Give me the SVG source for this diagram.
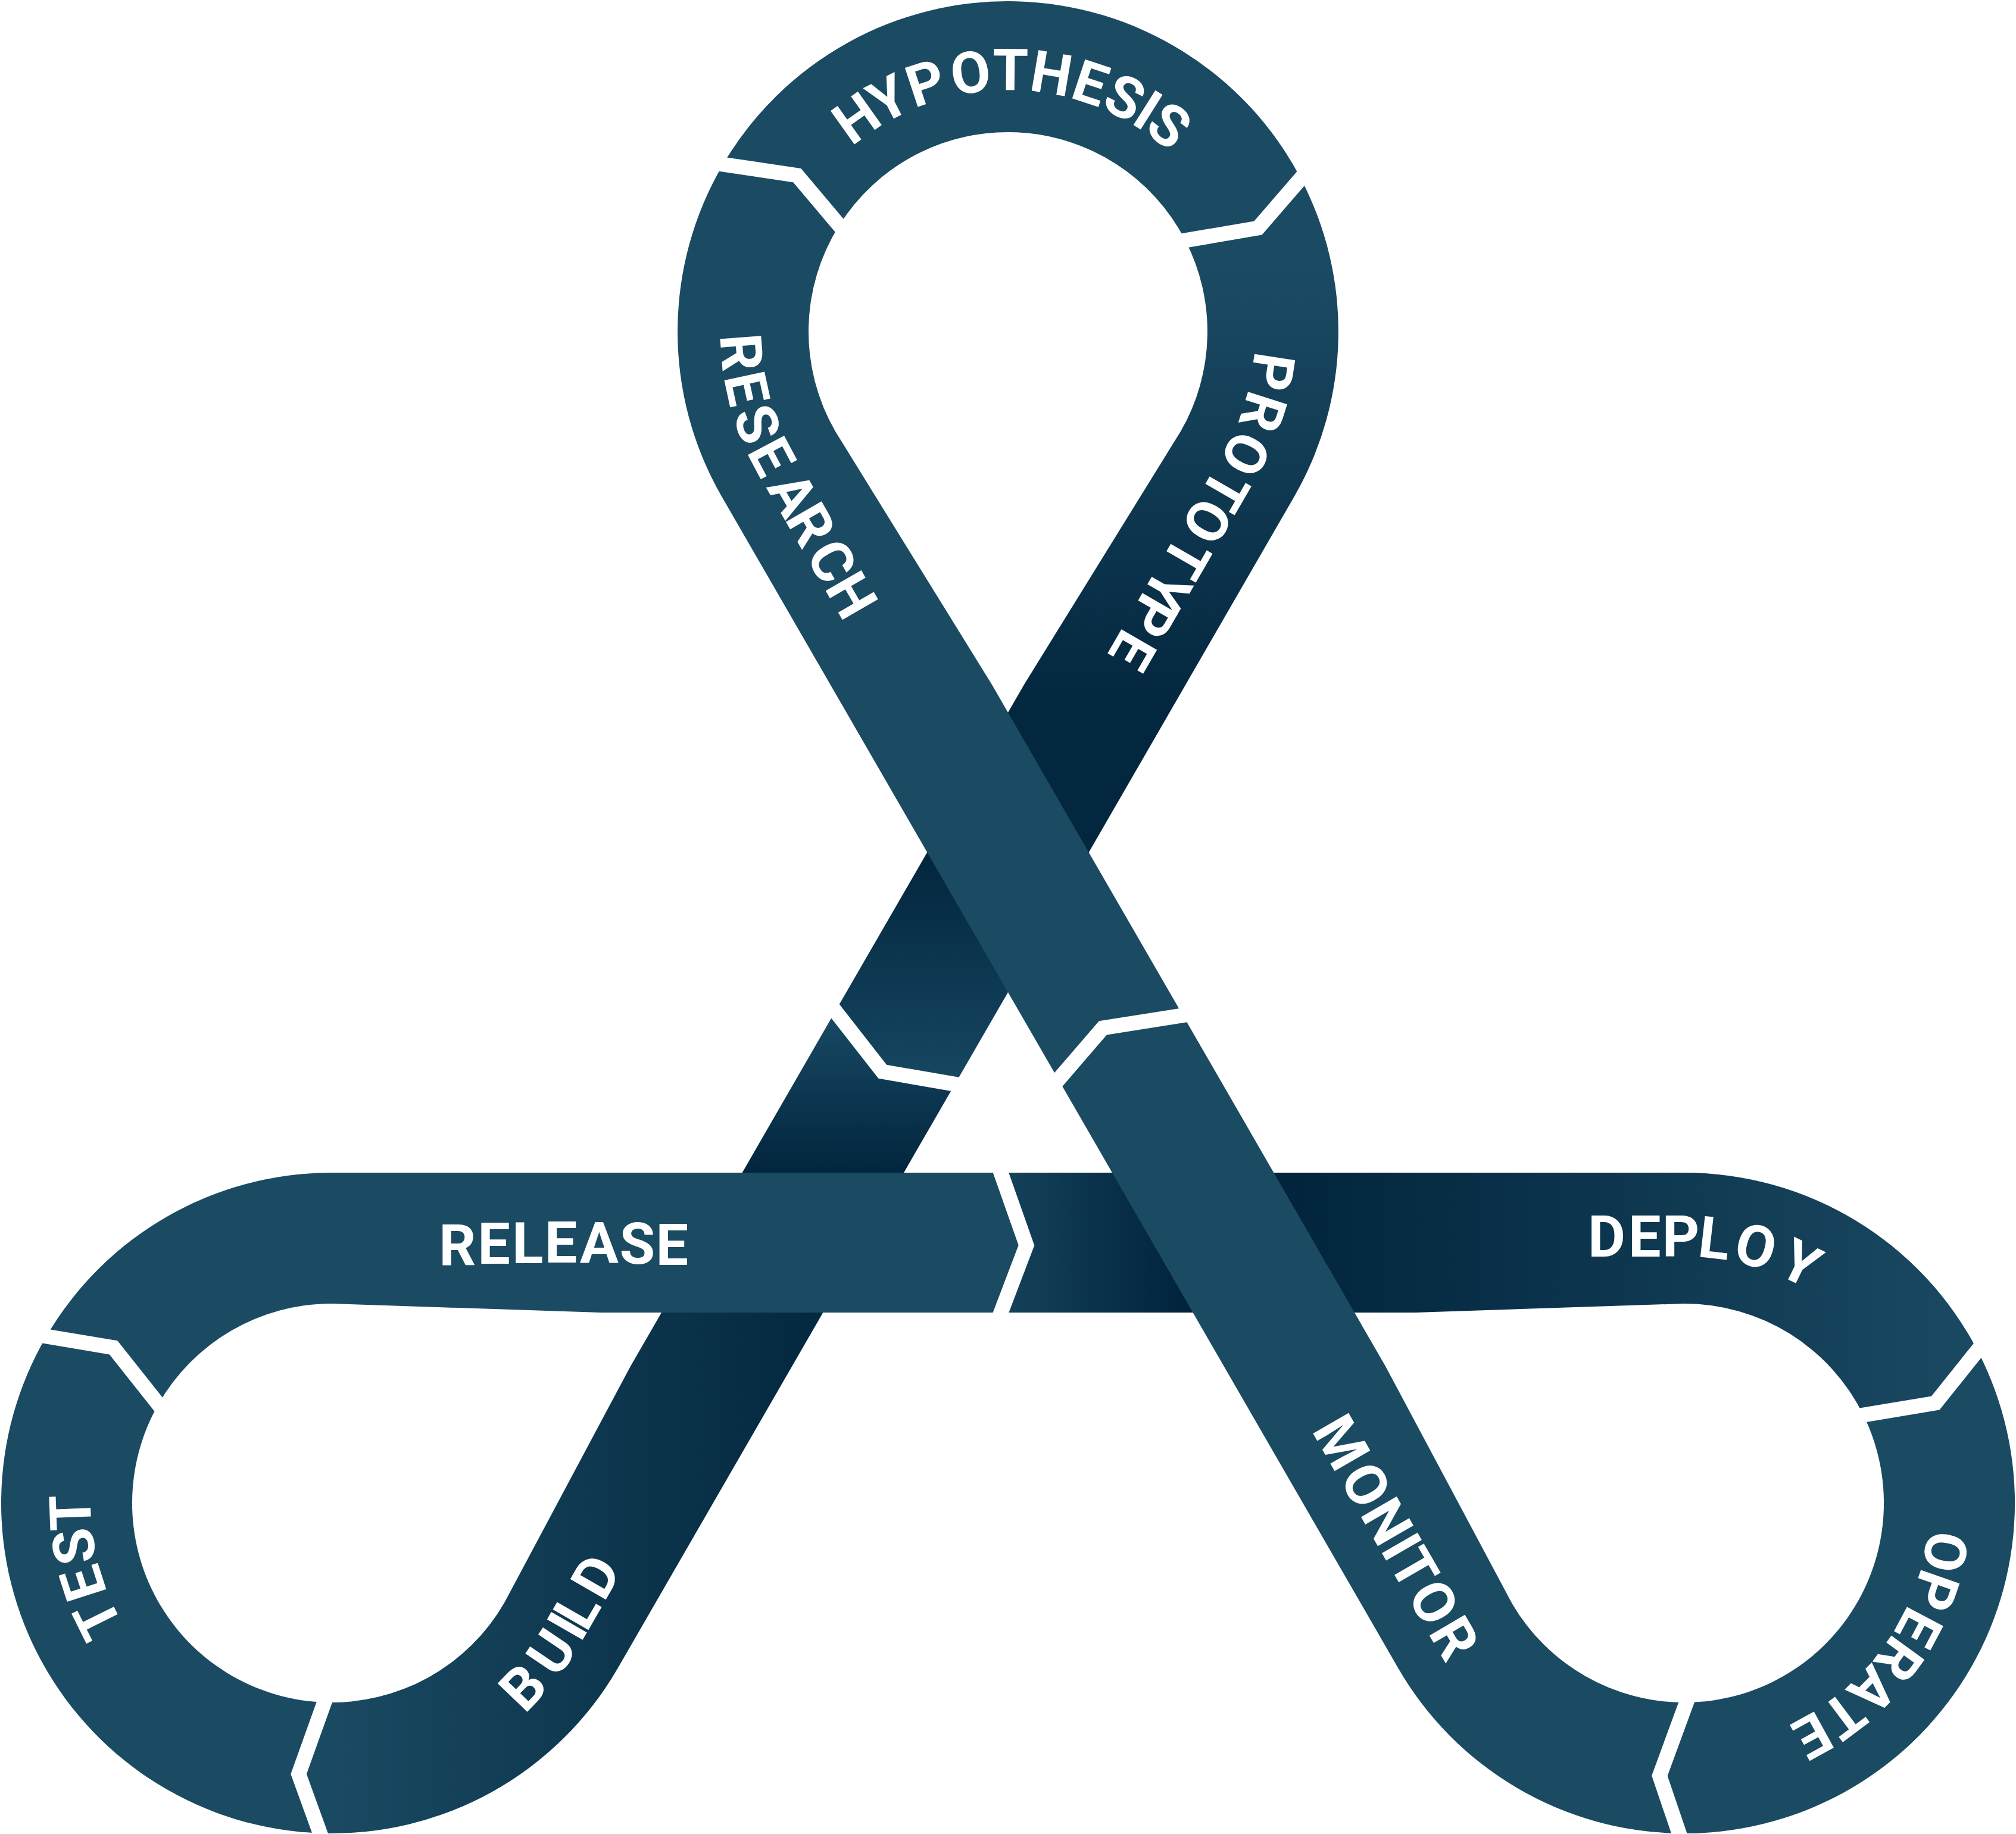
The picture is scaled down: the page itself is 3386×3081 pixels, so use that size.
<svg xmlns="http://www.w3.org/2000/svg" width="3386" height="3081" viewBox="0 0 3386 3081">
<defs>
<style>
.light{fill:#1b4b63}
.sep{fill:none;stroke:#ffffff;stroke-width:25;stroke-linejoin:miter;stroke-miterlimit:10}
.lbl{font-family:Roboto,"Noto Sans","DejaVu Sans",sans-serif;font-weight:700;font-size:97px;fill:#ffffff;text-anchor:middle}
</style>
<linearGradient id="gPro" gradientUnits="userSpaceOnUse" x1="0" y1="450" x2="0" y2="1820">
<stop offset="0" stop-color="#1b4b63"/><stop offset="0.54" stop-color="#03273f"/><stop offset="0.73" stop-color="#03273f"/><stop offset="1" stop-color="#174762"/>
</linearGradient>
<linearGradient id="gBu" gradientUnits="userSpaceOnUse" x1="0" y1="1720" x2="0" y2="1965">
<stop offset="0" stop-color="#174762"/><stop offset="1" stop-color="#02263e"/>
</linearGradient>
<linearGradient id="gBl" gradientUnits="userSpaceOnUse" x1="520" y1="0" x2="1380" y2="0">
<stop offset="0" stop-color="#1b4b63"/><stop offset="1" stop-color="#03283f"/>
</linearGradient>
<linearGradient id="gDep" gradientUnits="userSpaceOnUse" x1="1697" y1="0" x2="3330" y2="0">
<stop offset="0" stop-color="#134159"/><stop offset="0.1825" stop-color="#01233c"/><stop offset="0.271" stop-color="#01243c"/><stop offset="1" stop-color="#1a4a62"/>
</linearGradient>
<path id="pHyp" d="M1287,557 A406,406 0 0 1 2099,557"/>
<path id="pRes" d="M1239.1,391.8 A483,483 0 0 0 1274.7,798.5 L1624.7,1404.7"/>
<path id="pPro" d="M2083,415.1 A415,415 0 0 1 2052.4,764.5 L1702.4,1370.7"/>
<path id="pTest" d="M296.7,2835.2 A405,405 0 0 1 246.8,2264.7"/>
<path id="pBuild" d="M640.4,2997.7 A480,480 0 0 0 972.7,2765 L1272.7,2245.4"/>
<path id="pDep" d="M2600,2111 L2829,2111 A414,414 0 0 1 3218,2383.4"/>
<path id="pMon" d="M2125.6,2270.2 L2411.6,2766 A482,482 0 0 0 2664.1,2977.9"/>
<path id="pOpe" d="M3185.8,2319 A412,412 0 0 1 2623,2881.8"/>
</defs>
<rect width="3386" height="3081" fill="#ffffff"/>

<g id="prototype">
<path fill="url(#gPro)" d="M2184.8,299.9 A555,555 0 0 1 2173.6,834.5 L1603.9,1821.3 L1482.3,1800.3 L1403,1698.8 L1720.1,1150 L1983.1,724.5 A335,335 0 0 0 1990.9,403.9 L2113,383 Z"/>
<text class="lbl"><textPath href="#pPro" startOffset="207.7">P</textPath><textPath href="#pPro" startOffset="272">R</textPath><textPath href="#pPro" startOffset="342.2">O</textPath><textPath href="#pPro" startOffset="410.9">T</textPath><textPath href="#pPro" startOffset="470.7">O</textPath><textPath href="#pPro" startOffset="541.5">T</textPath><textPath href="#pPro" startOffset="605.5">Y</textPath><textPath href="#pPro" startOffset="654.8">P</textPath><textPath href="#pPro" startOffset="721.4">E</textPath></text>
</g>

<g id="build">
<path fill="url(#gBl)" d="M537.6,3079.7 A555,555 0 0 0 1037.6,2802.5 L1442.9,2100 L1171.7,2100 L1059.1,2295 L847.1,2692.5 A335,335 0 0 1 544.7,2859.8 L501.6,2980.3 Z"/>
<path fill="url(#gBu)" d="M1603.9,1821.3 L1419.8,2140 L1148.6,2140 L1403,1698.8 L1482.3,1800.3 Z"/>
<text class="lbl"><textPath href="#pBuild" startOffset="302">B</textPath><textPath href="#pBuild" startOffset="384">U</textPath><textPath href="#pBuild" startOffset="437.5">I</textPath><textPath href="#pBuild" startOffset="470">L</textPath><textPath href="#pBuild" startOffset="534">D</textPath></text>
</g>

<g id="deploy">
<path fill="url(#gDep)" d="M3321.3,2268.7 A555,555 0 0 0 2829,1970 L1681,1970 L1724,2092 L1681,2205 L2378,2205 L2829,2190 A335,335 0 0 1 3129.6,2377.1 L3250.7,2357 Z"/>
<text class="lbl"><textPath href="#pDep" startOffset="98.5">D</textPath><textPath href="#pDep" startOffset="162.4">E</textPath><textPath href="#pDep" startOffset="223">P</textPath><textPath href="#pDep" startOffset="276">L</textPath><textPath href="#pDep" startOffset="341.3">O</textPath><textPath href="#pDep" startOffset="415.9">Y</textPath></text>
</g>

<g id="hypothesis">
<path class="light" d="M1214.3,276.2 A555,555 0 0 1 2184.8,299.9 L2113,383 L1990.9,403.9 A335,335 0 0 0 1409.5,378.5 L1338.8,294.6 Z"/>
<text class="lbl"><textPath href="#pHyp" startOffset="386.6">H</textPath><textPath href="#pHyp" startOffset="444.6">Y</textPath><textPath href="#pHyp" startOffset="507.4">P</textPath><textPath href="#pHyp" startOffset="578.9">O</textPath><textPath href="#pHyp" startOffset="641.3">T</textPath><textPath href="#pHyp" startOffset="705.1">H</textPath><textPath href="#pHyp" startOffset="767.6">E</textPath><textPath href="#pHyp" startOffset="824.8">S</textPath><textPath href="#pHyp" startOffset="865.9">I</textPath><textPath href="#pHyp" startOffset="906.3">S</textPath></text>
</g>

<g id="research">
<path class="light" d="M1214.3,276.2 A555,555 0 0 0 1212.4,834.5 L1777.7,1813.6 L1852.4,1726.8 L1986.8,1705.8 L1665.9,1150 L1402.9,724.5 A335,335 0 0 1 1409.5,378.5 L1338.8,294.6 Z"/>
<text class="lbl"><textPath href="#pRes" startOffset="206.1">R</textPath><textPath href="#pRes" startOffset="271.9">E</textPath><textPath href="#pRes" startOffset="339.1">S</textPath><textPath href="#pRes" startOffset="403.5">E</textPath><textPath href="#pRes" startOffset="477.5">A</textPath><textPath href="#pRes" startOffset="536.9">R</textPath><textPath href="#pRes" startOffset="607.7">C</textPath><textPath href="#pRes" startOffset="673.6">H</textPath></text>
</g>

<g id="monitor">
<path class="light" d="M1777.7,1813.6 L2348.4,2802.5 A555,555 0 0 0 2820.3,3080 L2787.4,2983.2 L2832.5,2860 A335,335 0 0 1 2538.9,2692.5 L2326.9,2295 L1986.8,1705.8 L1852.4,1726.8 Z"/>
<text class="lbl"><textPath href="#pMon" startOffset="195.7">M</textPath><textPath href="#pMon" startOffset="278.6">O</textPath><textPath href="#pMon" startOffset="349.4">N</textPath><textPath href="#pMon" startOffset="398.4">I</textPath><textPath href="#pMon" startOffset="440.8">T</textPath><textPath href="#pMon" startOffset="506.3">O</textPath><textPath href="#pMon" startOffset="576.2">R</textPath></text>
</g>

<g id="operate">
<path class="light" d="M2820.3,3080 A555,555 0 0 0 3321.3,2268.7 L3250.7,2357 L3129.6,2377.1 A335,335 0 0 1 2832.5,2860 L2787.4,2983.2 Z"/>
<text class="lbl"><textPath href="#pOpe" startOffset="292">O</textPath><textPath href="#pOpe" startOffset="354.5">P</textPath><textPath href="#pOpe" startOffset="416.5">E</textPath><textPath href="#pOpe" startOffset="475.2">R</textPath><textPath href="#pOpe" startOffset="538.2">A</textPath><textPath href="#pOpe" startOffset="597.8">T</textPath><textPath href="#pOpe" startOffset="655.1">E</textPath></text>
</g>

<g id="release">
<path class="light" d="M1681,1970 L557,1970 A555,555 0 0 0 77.8,2245 L190.5,2263.8 L266,2359 A335,335 0 0 1 557,2190 L1008,2205 L1681,2205 L1724,2092 Z"/>
<text class="lbl" x="768.4 829.5 886.2 942 1006.4 1070.3 1128.8" y="2125 2123 2122 2121 2121 2123 2125">RELEASE</text>
</g>

<g id="test">
<path class="light" d="M77.8,2245 A555,555 0 0 0 537.6,3079.7 L501.6,2980.3 L544.7,2859.8 A335,335 0 0 1 266,2359 L190.5,2263.8 Z"/>
<text class="lbl"><textPath href="#pTest" startOffset="166.6">T</textPath><textPath href="#pTest" startOffset="226.6">E</textPath><textPath href="#pTest" startOffset="285.5">S</textPath><textPath href="#pTest" startOffset="338">T</textPath></text>
</g>

<g id="separators">
<polyline class="sep" points="1199.5,274 1338.8,294.6 1419.2,390"/>
<polyline class="sep" points="2194.6,288.5 2113,383 1976.1,406.4"/>
<polyline class="sep" points="1767.9,1825 1852.4,1726.8 2000.8,1703.5"/>
<polyline class="sep" points="1618.7,1823.9 1482.3,1800.3 1393.8,1687"/>
<polyline class="sep" points="1676,1955.9 1724,2092 1675.7,2219"/>
<polyline class="sep" points="63,2242.5 190.5,2263.8 275.3,2370.8"/>
<polyline class="sep" points="542.7,3093.8 501.6,2980.3 549.8,2845.7"/>
<polyline class="sep" points="3330.7,2257 3250.7,2357 3114.8,2379.6"/>
<polyline class="sep" points="2825.1,3094.2 2787.4,2983.2 2837.7,2845.9"/>
</g>
</svg>
